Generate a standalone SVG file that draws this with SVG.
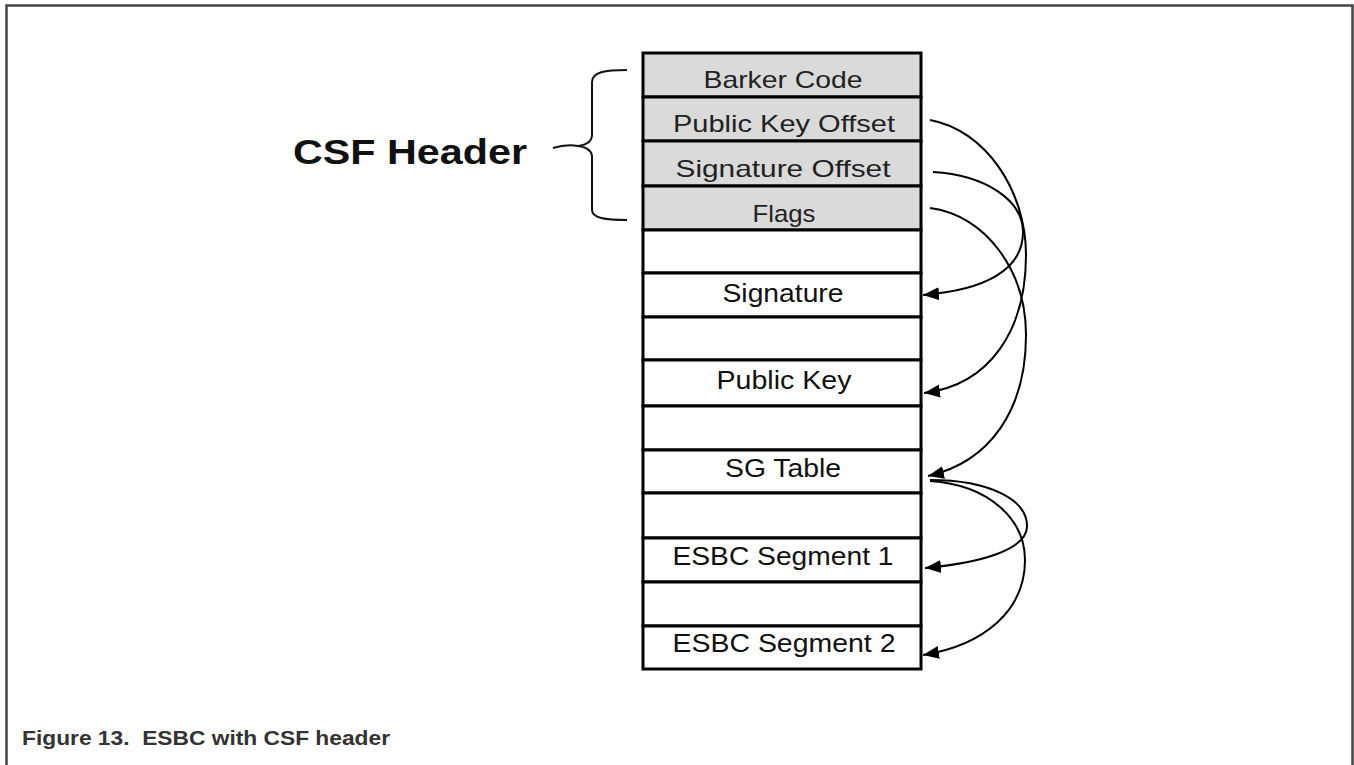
<svg xmlns="http://www.w3.org/2000/svg" width="1354" height="765" viewBox="0 0 1354 765">
<style>
.row{stroke:#000;stroke-width:3;fill:#fff}
.hdr{fill:#dadada}
.ht{font-family:"Liberation Sans",Arial,sans-serif;font-size:24px;fill:#222;text-anchor:middle}
.bt{font-family:"Liberation Sans",Arial,sans-serif;font-size:26px;fill:#111;text-anchor:middle}
.conn{fill:none;stroke:#000;stroke-width:2}
</style>
<defs>
<marker id="ah" markerUnits="userSpaceOnUse" markerWidth="18" markerHeight="16" refX="16" refY="8" orient="auto">
<path d="M0,1.5 L16,8 L0,14.5 Z" fill="#000"/>
</marker>
</defs>
<rect width="1354" height="765" fill="#fff"/>
<path d="M6.5,765 V5.5 H1352.5 V765" fill="none" stroke="#444" stroke-width="2.5"/>

<g id="csf-label">
<text x="293" y="164" font-family="Liberation Sans,Arial,sans-serif" font-size="35" font-weight="bold" fill="#111" textLength="234" lengthAdjust="spacingAndGlyphs">CSF Header</text>
<path d="M627,70 C605,70 592,72 592,82 V135 Q592,144 578,146 Q592,148 592,157 V210 C592,218 605,220 627,220" fill="none" stroke="#111" stroke-width="2"/>
<path d="M553,148 Q566,144 578,146" fill="none" stroke="#111" stroke-width="2"/>
</g>

<g id="row-barker"><rect class="row hdr" x="643" y="53" width="278" height="44"/><text class="ht" x="783" y="88" textLength="159" lengthAdjust="spacingAndGlyphs">Barker Code</text></g>
<g id="row-pko"><rect class="row hdr" x="643" y="97" width="278" height="44"/><text class="ht" x="784" y="132" textLength="222" lengthAdjust="spacingAndGlyphs">Public Key Offset</text></g>
<g id="row-so"><rect class="row hdr" x="643" y="141" width="278" height="45"/><text class="ht" x="783" y="177" textLength="215" lengthAdjust="spacingAndGlyphs">Signature Offset</text></g>
<g id="row-flags"><rect class="row hdr" x="643" y="186" width="278" height="44"/><text class="ht" x="784" y="222" textLength="63" lengthAdjust="spacingAndGlyphs">Flags</text></g>
<g id="row-blank1"><rect class="row" x="643" y="230" width="278" height="43"/></g>
<g id="row-signature"><rect class="row" x="643" y="273" width="278" height="44"/><text class="bt" x="783" y="302" textLength="121" lengthAdjust="spacingAndGlyphs">Signature</text></g>
<g id="row-blank2"><rect class="row" x="643" y="317" width="278" height="43"/></g>
<g id="row-pubkey"><rect class="row" x="643" y="360" width="278" height="46"/><text class="bt" x="784" y="389" textLength="135" lengthAdjust="spacingAndGlyphs">Public Key</text></g>
<g id="row-blank3"><rect class="row" x="643" y="406" width="278" height="44"/></g>
<g id="row-sgtable"><rect class="row" x="643" y="450" width="278" height="43"/><text class="bt" x="783" y="477" textLength="116" lengthAdjust="spacingAndGlyphs">SG Table</text></g>
<g id="row-blank4"><rect class="row" x="643" y="493" width="278" height="45"/></g>
<g id="row-seg1"><rect class="row" x="643" y="538" width="278" height="44"/><text class="bt" x="783" y="565" textLength="221" lengthAdjust="spacingAndGlyphs">ESBC Segment 1</text></g>
<g id="row-blank5"><rect class="row" x="643" y="582" width="278" height="44"/></g>
<g id="row-seg2"><rect class="row" x="643" y="626" width="278" height="43"/><text class="bt" x="784" y="652" textLength="223" lengthAdjust="spacingAndGlyphs">ESBC Segment 2</text></g>

<g id="connectors">
<path class="conn" marker-end="url(#ah)" d="M930,120 C985,130 1026,190 1026,255 C1026,330 990,385 924,393"/>
<path class="conn" marker-end="url(#ah)" d="M933,172 C985,175 1023,200 1023,232 C1023,270 985,290 923,295"/>
<path class="conn" marker-end="url(#ah)" d="M930,208 C985,215 1026,270 1026,335 C1026,410 990,462 928,476"/>
<path class="conn" marker-end="url(#ah)" d="M930,480 C990,480 1028,500 1027,527 C1026,550 980,563 925,568"/>
<path class="conn" marker-end="url(#ah)" d="M930,481 C990,485 1025,520 1025,560 C1025,610 985,645 923,655"/>
</g>

<text x="22" y="745" font-family="Liberation Sans,Arial,sans-serif" font-size="21" font-weight="bold" fill="#333" textLength="368" lengthAdjust="spacingAndGlyphs" style="white-space:pre" xml:space="preserve">Figure 13.  ESBC with CSF header</text>
</svg>
